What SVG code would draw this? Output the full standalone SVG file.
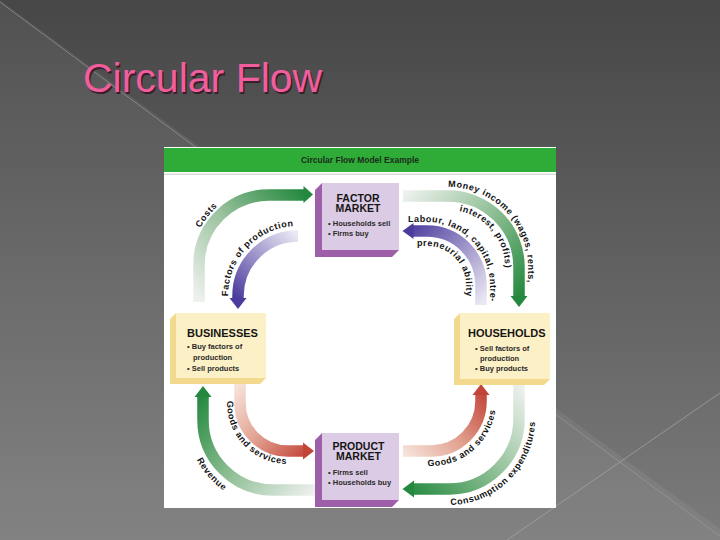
<svg xmlns="http://www.w3.org/2000/svg" width="720" height="540" viewBox="0 0 720 540">
<defs>
  <linearGradient id="bg" x1="0" y1="0" x2="0" y2="1">
    <stop offset="0" stop-color="#474747"/>
    <stop offset="1" stop-color="#7b7b7b"/>
  </linearGradient>
  <linearGradient id="gCosts" gradientUnits="userSpaceOnUse" x1="199" y1="300" x2="305" y2="194">
    <stop offset="0" stop-color="#eef1ee"/>
    <stop offset="0.5" stop-color="#9cc39f"/>
    <stop offset="1" stop-color="#24893f"/>
  </linearGradient>
  <linearGradient id="gFactors" gradientUnits="userSpaceOnUse" x1="298" y1="236" x2="238" y2="300">
    <stop offset="0" stop-color="#ebe8f4"/>
    <stop offset="0.5" stop-color="#9d93c9"/>
    <stop offset="1" stop-color="#4a3c9c"/>
  </linearGradient>
  <linearGradient id="gMoney" gradientUnits="userSpaceOnUse" x1="403" y1="196" x2="519" y2="300">
    <stop offset="0" stop-color="#eef1ee"/>
    <stop offset="0.5" stop-color="#8fbf95"/>
    <stop offset="1" stop-color="#24893f"/>
  </linearGradient>
  <linearGradient id="gLabour" gradientUnits="userSpaceOnUse" x1="481" y1="305" x2="405" y2="230">
    <stop offset="0" stop-color="#ebe8f4"/>
    <stop offset="0.5" stop-color="#9d93c9"/>
    <stop offset="1" stop-color="#4a3c9c"/>
  </linearGradient>
  <linearGradient id="gRevenue" gradientUnits="userSpaceOnUse" x1="316" y1="490" x2="203" y2="392">
    <stop offset="0" stop-color="#eef1ee"/>
    <stop offset="0.5" stop-color="#8fbf95"/>
    <stop offset="1" stop-color="#24893f"/>
  </linearGradient>
  <linearGradient id="gGoodsL" gradientUnits="userSpaceOnUse" x1="240" y1="383" x2="312" y2="451">
    <stop offset="0" stop-color="#f6e2d9"/>
    <stop offset="0.5" stop-color="#e2a190"/>
    <stop offset="1" stop-color="#c2453a"/>
  </linearGradient>
  <linearGradient id="gCons" gradientUnits="userSpaceOnUse" x1="519" y1="383" x2="404" y2="489">
    <stop offset="0" stop-color="#eef1ee"/>
    <stop offset="0.5" stop-color="#8fbf95"/>
    <stop offset="1" stop-color="#24893f"/>
  </linearGradient>
  <linearGradient id="gGoodsR" gradientUnits="userSpaceOnUse" x1="403" y1="451" x2="481" y2="388">
    <stop offset="0" stop-color="#f6e2d9"/>
    <stop offset="0.5" stop-color="#e2a190"/>
    <stop offset="1" stop-color="#c2453a"/>
  </linearGradient>
  <path id="pCosts" d="M192.2,278.5 A78,78 0 0 1 282.5,188.2"/>
  <path id="pFactors" d="M229.1,308.2 A70,70 0 0 1 321.9,230.2"/>
  <path id="pMoney" d="M420.6,191.8 A80,80 0 0 1 528,267 L528,330"/>
  <path id="pInterest" d="M428.5,213.4 A57,57 0 0 1 501.6,286.5"/>
  <path id="pLabour" d="M398,222 L427,222 A63,63 0 0 1 490,285 L490,330"/>
  <path id="pPreneurial" d="M405,246 L427,246 A39,39 0 0 1 466,285 L466,320"/>
  <path id="pRevenue" d="M192.2,390.6 A86,86 0 0 0 273,506"/>
  <path id="pGoodsL" d="M227,380 L227,403 A61,61 0 0 0 288,464 L320,464"/>
  <path id="pCons" d="M406,493.5 A86,86 0 0 0 535,419 L535,380"/>
  <path id="pGoodsR" d="M389.2,450.8 A65,65 0 0 0 496,401 L496,370"/>
</defs>
<style>
  .title{font-family:"Liberation Sans",Arial,sans-serif;font-size:41px}
  .hdr{font-family:"Liberation Sans",Arial,sans-serif;font-size:8.5px;font-weight:bold;fill:#1c2e1c}
  .nh{font-family:"Liberation Sans",Arial,sans-serif;font-size:10.5px;font-weight:bold;fill:#151515}
  .nh2{font-family:"Liberation Sans",Arial,sans-serif;font-size:11px;font-weight:bold;fill:#151515}
  .it{font-family:"Liberation Sans",Arial,sans-serif;font-size:7.5px;font-weight:bold;fill:#2a2a2a}
  .lbl{font-family:"Liberation Sans",Arial,sans-serif;font-size:9px;font-weight:bold;fill:#111;letter-spacing:0.6px}
  .band{fill:none;stroke-width:11.5}
  .pside{fill:#9e5fa9}
  .pfront{fill:#dccbe4}
  .yside{fill:#f2d98e}
  .yfront{fill:#fcf0c6}
</style>

<!-- slide background -->
<rect x="0" y="0" width="720" height="540" fill="url(#bg)"/>
<polygon points="0,0 735,540 0,540" fill="#ffffff" opacity="0.06"/>
<line x1="0" y1="2" x2="725" y2="540" stroke="#9a9a9a" stroke-width="1" opacity="0.7"/>
<line x1="720" y1="393" x2="507" y2="540" stroke="#a8a8a8" stroke-width="1" opacity="0.7"/>

<!-- title -->
<text class="title" x="84.5" y="93.5" fill="#3a1e2c">Circular Flow</text>
<text class="title" x="83" y="92" fill="#f25e9d">Circular Flow</text>

<!-- embedded picture frame -->
<rect x="164" y="147" width="392" height="361" fill="#ffffff"/>
<rect x="164" y="148" width="392" height="24" fill="#2fab38"/>
<line x1="164" y1="174.2" x2="556" y2="174.2" stroke="#c9c9c9" stroke-width="1"/>
<text class="hdr" x="360" y="163" text-anchor="middle">Circular Flow Model Example</text>

<!-- connectors -->
<g id="connectors">
  <!-- Costs -->
  <path class="band" stroke="url(#gCosts)" stroke-width="12" d="M199,302 L199,265 A70,70 0 0 1 269,195 L304,195"/>
  <polygon points="303.5,186 313,194.5 303.5,203" fill="#24893f"/>
  <text class="lbl"><textPath href="#pCosts" startOffset="66" text-anchor="middle">Costs</textPath></text>
  <!-- Factors of production -->
  <path class="band" stroke="url(#gFactors)" d="M298,236 A60,60 0 0 0 238,296 L238,299"/>
  <polygon points="229.5,298 246.5,298 238,309" fill="#4a3c9c"/>
  <text class="lbl"><textPath href="#pFactors" startOffset="65" text-anchor="middle">Factors of production</textPath></text>
  <!-- Money income -->
  <path class="band" stroke="url(#gMoney)" stroke-width="12" d="M403,196 L448,196 A71,71 0 0 1 519,267 L519,297"/>
  <polygon points="510.5,296 527.5,296 519,307" fill="#24893f"/>
  <text class="lbl"><textPath href="#pMoney" startOffset="28">Money income (wages, rents,</textPath></text>
  <text class="lbl"><textPath href="#pInterest" startOffset="71" text-anchor="middle">interest, profits)</textPath></text>
  <!-- Labour, land ... -->
  <path class="band" stroke="url(#gLabour)" d="M481,305 L481,285 A54,54 0 0 0 427,231 L413,231"/>
  <polygon points="413.5,223 413.5,239 402.5,231" fill="#4a3c9c"/>
  <text class="lbl"><textPath href="#pLabour" startOffset="10">Labour, land, capital, entre-</textPath></text>
  <text class="lbl"><textPath href="#pPreneurial" startOffset="12">preneurial ability</textPath></text>
  <!-- Revenue -->
  <path class="band" stroke="url(#gRevenue)" stroke-width="12" d="M316,490 L273,490 A70,70 0 0 1 203,420 L203,396"/>
  <polygon points="194.5,397 211.5,397 203,386" fill="#24893f"/>
  <text class="lbl"><textPath href="#pRevenue" startOffset="92" text-anchor="middle">Revenue</textPath></text>
  <!-- Goods and services (left) -->
  <path class="band" stroke="url(#gGoodsL)" d="M240,383 L240,403 A48,48 0 0 0 288,451 L304,451"/>
  <polygon points="303,442.5 303,459.5 314,451" fill="#c2453a"/>
  <text class="lbl"><textPath href="#pGoodsL" startOffset="21">Goods and services</textPath></text>
  <!-- Consumption expenditures -->
  <path class="band" stroke="url(#gCons)" stroke-width="12" d="M519,383 L519,419 A70,70 0 0 1 449,489 L413,489"/>
  <polygon points="414,480.5 414,497.5 402.5,489" fill="#24893f"/>
  <text class="lbl"><textPath href="#pCons" startOffset="112" text-anchor="middle">Consumption expenditures</textPath></text>
  <!-- Goods and services (right) -->
  <path class="band" stroke="url(#gGoodsR)" d="M403,451 L431,451 A50,50 0 0 0 481,401 L481,394"/>
  <polygon points="472.5,395 489.5,395 481,384" fill="#c2453a"/>
  <text class="lbl"><textPath href="#pGoodsR" startOffset="90" text-anchor="middle">Goods and services</textPath></text>
</g>

<!-- nodes -->
<g id="factor-market">
  <polygon class="pside" points="322,183 315,190 315,257 392,257 399,250 322,250"/>
  <rect class="pfront" x="322" y="183" width="77" height="67"/>
  <text class="nh" x="358" y="202" text-anchor="middle">FACTOR</text>
  <text class="nh" x="358" y="212" text-anchor="middle">MARKET</text>
  <text class="it" x="328" y="226">• Households sell</text>
  <text class="it" x="328" y="236">• Firms buy</text>
</g>
<g id="product-market">
  <polygon class="pside" points="322,433 315,440 315,507 392,507 399,500 322,500"/>
  <rect class="pfront" x="322" y="433" width="77" height="67"/>
  <text class="nh" x="358.5" y="450" text-anchor="middle">PRODUCT</text>
  <text class="nh" x="358.5" y="460" text-anchor="middle">MARKET</text>
  <text class="it" x="328" y="475">• Firms sell</text>
  <text class="it" x="328" y="485">• Households buy</text>
</g>
<g id="businesses">
  <polygon class="yside" points="176,313 170,319 170,384 260,384 266,378 176,378"/>
  <rect class="yfront" x="176" y="313" width="90" height="65"/>
  <text class="nh2" x="187" y="336.5">BUSINESSES</text>
  <text class="it" x="187" y="349">• Buy factors of</text>
  <text class="it" x="193" y="360">production</text>
  <text class="it" x="187" y="371">• Sell products</text>
</g>
<g id="households">
  <polygon class="yside" points="460,313 454,319 454,385 544,385 550,379 460,379"/>
  <rect class="yfront" x="460" y="313" width="90" height="66"/>
  <text class="nh2" x="468" y="336.5">HOUSEHOLDS</text>
  <text class="it" x="475" y="350.5">• Sell factors of</text>
  <text class="it" x="480" y="360.5">production</text>
  <text class="it" x="475" y="371">• Buy products</text>
</g>
</svg>
